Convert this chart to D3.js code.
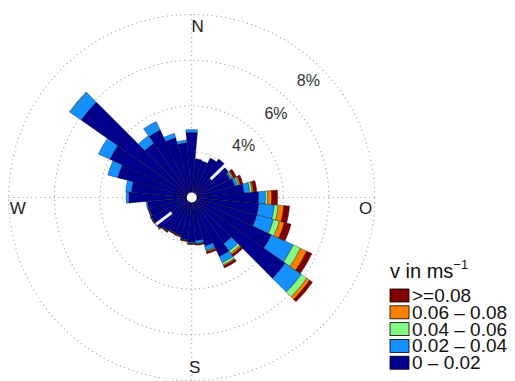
<!DOCTYPE html>
<html>
<head>
<meta charset="utf-8">
<script src="https://cdn.jsdelivr.net/npm/d3@7/dist/d3.min.js"></script>
<style>
  body { margin: 0; background: #fff; }
  svg { display: block; font-family: 'Liberation Sans', Arial, sans-serif; }
</style>
</head>
<body>
<svg id="chart" width="515" height="381"></svg>
<script>
// direction of each sector (degrees, clockwise from N)
const directions = [0, 10, 20, 30, 40, 50, 60, 70, 80, 90, 100, 110, 120, 130, 140, 150, 160, 170,
  180, 190, 200, 210, 220, 230, 240, 250, 260, 270, 280, 290, 300, 310, 320, 330, 340, 350];

// frequency (%) per speed class, one value per direction
const speed0 = [2.85, 1.7, 1.65, 1.9, 2.05, 1.95, 1.85, 1.95, 2.3, 2.93, 2.95, 2.95, 3.85, 5.0, 2.45, 2.85, 2.2, 1.9,
  1.95, 1.85, 1.72, 1.7, 1.8, 1.9, 1.95, 1.92, 1.95, 2.75, 2.65, 3.35, 3.95, 5.9, 2.9, 3.25, 2.7, 2.4];
const speed1 = [0.12, 0, 0, 0, 0, 0, 0.08, 0.12, 0.25, 0.3, 0.68, 0.75, 1.05, 0.85, 0.4, 0.3, 0.2, 0.12,
  0.05, 0.03, 0.02, 0.02, 0.02, 0.02, 0.02, 0.03, 0.05, 0.12, 0.25, 0.45, 0.55, 0.6, 0.4, 0.42, 0.2, 0.12];
const speed2 = [0, 0, 0, 0, 0, 0, 0.05, 0.07, 0.1, 0.1, 0.17, 0.27, 0.35, 0.3, 0.12, 0.1, 0.03, 0.02,
  0.01, 0.01, 0.01, 0.01, 0.01, 0.01, 0, 0, 0, 0, 0, 0, 0, 0.03, 0, 0, 0, 0];
const speed3 = [0, 0, 0, 0, 0, 0, 0.05, 0.06, 0.06, 0.17, 0.25, 0.23, 0.3, 0.15, 0.08, 0.05, 0.04, 0.02,
  0.01, 0.01, 0.01, 0.01, 0.01, 0.01, 0, 0, 0, 0, 0, 0, 0, 0, 0, 0, 0, 0];
const speed4 = [0, 0, 0, 0, 0, 0, 0.12, 0.12, 0.15, 0.26, 0.25, 0.3, 0.25, 0.15, 0.1, 0.1, 0.08, 0.04,
  0.04, 0.04, 0.04, 0.03, 0.03, 0.03, 0.03, 0.02, 0, 0, 0, 0, 0, 0, 0, 0, 0, 0];

const speedClasses = ['0 \u2013 0.02', '0.02 \u2013 0.04', '0.04 \u2013 0.06', '0.06 \u2013 0.08', '>=0.08'];
const classColors = ['#00008c', '#1490ff', '#84f884', '#ff8000', '#800000'];

const ringValues = [2, 4, 6, 8];
const ringLabels = ['4%', '6%', '8%'];
const compassLabels = ['N', 'O', 'S', 'W'];

// white slits visible in the rose: [angle, from %, to %]
const slits = [[46, 1.15, 2.05], [233, 1.1, 1.95]];

const cx = 191.7;
const cy = 197.5;
const outerR = 183;
const sectorWidth = 10;

const svg = d3.select('#chart');
const r = d3.scaleLinear().domain([0, 8]).range([0, outerR]);
const rad = (deg) => (deg * Math.PI) / 180;

const table = directions.map((dir, i) => ({
  dir: dir,
  s0: speed0[i], s1: speed1[i], s2: speed2[i], s3: speed3[i], s4: speed4[i],
}));
const keys = ['s0', 's1', 's2', 's3', 's4'];
const stacked = d3.stack().keys(keys)(table);

const root = svg.append('g').attr('transform', `translate(${cx},${cy})`);

// grid
const grid = root.append('g')
  .attr('fill', 'none')
  .attr('stroke', '#a8a8a8')
  .attr('stroke-width', 1.1)
  .attr('stroke-dasharray', '1.2,3.3');
grid.selectAll('circle')
  .data(ringValues)
  .join('circle')
  .attr('r', (d) => r(d));
grid.append('line').attr('x1', -outerR).attr('x2', outerR).attr('y1', 0).attr('y2', 0);
grid.append('line').attr('y1', -outerR).attr('y2', outerR).attr('x1', 0).attr('x2', 0);

// bars
const arc = d3.arc()
  .innerRadius((d) => r(d[0]))
  .outerRadius((d) => r(d[1]))
  .startAngle((d) => rad(d.data.dir - sectorWidth / 2))
  .endAngle((d) => rad(d.data.dir + sectorWidth / 2));

root.append('g')
  .selectAll('g')
  .data(stacked)
  .join('g')
  .attr('fill', (d, i) => classColors[i])
  .selectAll('path')
  .data((d) => d.filter((p) => p[1] - p[0] > 0))
  .join('path')
  .attr('d', arc)
  .attr('stroke', '#000')
  .attr('stroke-opacity', 0.55)
  .attr('stroke-width', 0.6);

// slits
root.append('g')
  .selectAll('line')
  .data(slits)
  .join('line')
  .attr('x1', (d) => r(d[1]) * Math.sin(rad(d[0])))
  .attr('y1', (d) => -r(d[1]) * Math.cos(rad(d[0])))
  .attr('x2', (d) => r(d[2]) * Math.sin(rad(d[0])))
  .attr('y2', (d) => -r(d[2]) * Math.cos(rad(d[0])))
  .attr('stroke', '#fff')
  .attr('stroke-width', 3);

// centre hole
root.append('circle').attr('r', 5).attr('fill', '#fff');

// ring labels along 45 degrees
root.append('g')
  .selectAll('text')
  .data(ringLabels)
  .join('text')
  .attr('x', (d, i) => (r(ringValues[i + 1]) - 18) * Math.SQRT1_2)
  .attr('y', (d, i) => -(r(ringValues[i + 1]) - 18) * Math.SQRT1_2)
  .attr('text-anchor', 'middle')
  .attr('dominant-baseline', 'central')
  .attr('font-size', 16)
  .attr('fill', '#333')
  .text((d) => d);

// compass labels
const compassPos = { N: [6, -171], O: [174, 11], S: [3, 170], W: [-174, 11] };
root.append('g')
  .selectAll('text')
  .data(compassLabels)
  .join('text')
  .attr('x', (d) => compassPos[d][0])
  .attr('y', (d) => compassPos[d][1])
  .attr('text-anchor', 'middle')
  .attr('dominant-baseline', 'central')
  .attr('font-size', 17)
  .attr('fill', '#222')
  .text((d) => d);

// legend
const legend = svg.append('g').attr('transform', 'translate(390,295.5)');
const title = legend.append('text')
  .attr('x', 0)
  .attr('y', -17.5)
  .attr('font-size', 20)
  .attr('fill', '#111');
title.append('tspan').text('v in ms');
title.append('tspan').attr('font-size', 13).attr('dy', -9).text('\u22121');

const rows = speedClasses.map((label, i) => ({ label: label, color: classColors[i] })).reverse();
const item = legend.selectAll('g.item')
  .data(rows)
  .join('g')
  .attr('class', 'item')
  .attr('transform', (d, i) => `translate(0,${i * 16.8})`);
item.append('rect')
  .attr('x', 0)
  .attr('y', -6.5)
  .attr('width', 19)
  .attr('height', 13)
  .attr('fill', (d) => d.color)
  .attr('stroke', '#000')
  .attr('stroke-width', 0.8);
item.append('text')
  .attr('x', 22)
  .attr('y', 0)
  .attr('dominant-baseline', 'central')
  .attr('font-size', 19)
  .attr('fill', '#111')
  .text((d) => d.label);
</script>
</body>
</html>
